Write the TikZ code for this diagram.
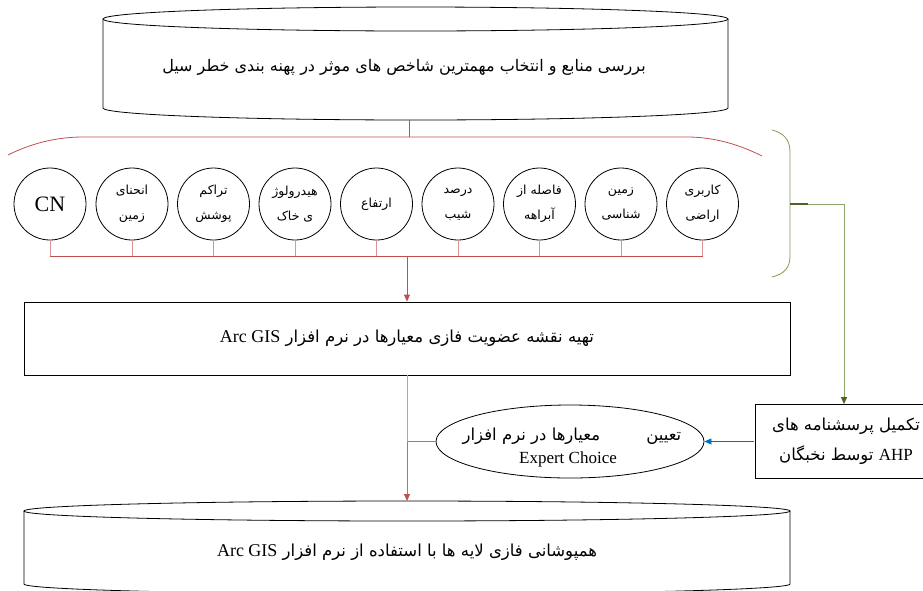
\documentclass[tikz,border=0pt]{standalone}
\usepackage{fontspec}
\usetikzlibrary{shapes.geometric,arrows.meta}
\setmainfont{Liberation Serif}
\newfontfamily\fa[Script=Arabic]{DejaVu Sans}
\TeXXeTstate=1
\definecolor{redA}{HTML}{C0504D}
\definecolor{redL}{HTML}{DA9694}
\definecolor{grnA}{HTML}{7F9A4F}
\definecolor{grnD}{HTML}{4F6228}
\definecolor{grnL}{HTML}{8FA56A}
\definecolor{bluA}{HTML}{0070C0}
\definecolor{bluL}{HTML}{2AA0DA}
\definecolor{purA}{HTML}{8E7C9C}
\tikzset{
  crc/.style={circle, draw, line width=0.8pt, minimum size=72pt, inner sep=0pt, align=center,
    font={\fa\fontsize{12.5}{25}\selectfont}},
  txtbox/.style={draw=none, inner sep=0pt, align=center},
  bx/.style={draw, line width=0.8pt, inner sep=0pt, align=center},
  tip/.style={-{Triangle[length=7pt,width=6pt]}},
}
\newcommand{\fabig}{\fa\fontsize{16.5}{20}\selectfont}
\newcommand{\latbig}{\rmfamily\fontsize{18}{20}\selectfont}
\begin{document}
\begin{tikzpicture}[x=1pt,y=-1pt,line width=0.8pt]
\useasboundingbox (0,0) rectangle (923,590);
\begin{scope}
\clip (0,0) rectangle (923,590);
% top cylinder
\node[txtbox, minimum width=625pt, minimum height=114pt] (topc) at (404,67)
  {\fa\fontsize{16}{20}\selectfont\beginR بررسی منابع و انتخاب  مهمترین شاخص های موثر در پهنه بندی خطر سیل\endR};
\draw (103,19) -- (103,108) arc[start angle=180,end angle=0,x radius=312.5,y radius=12] -- (728,19);
\draw (415.5,19) ellipse [x radius=312.5, y radius=12];
\coordinate (t1) at (409,120);
\coordinate (t2) at (409,137);
% red arc
\draw[redA] (8,155) .. controls (30,144) and (55,137) .. (83,137) -- (687,137) .. controls (715,137) and (740,145) .. (762,156);
\draw[redA] (t1) -- (t2);
% circles
\node[crc] (c1) at (50,204) {\fontsize{22}{24}\selectfont\rmfamily CN};
\node[crc] (c2) at (132,204) {\beginR انحنای\endR\\\beginR زمین\endR};
\node[crc] (c3) at (213.5,204) {\beginR تراکم\endR\\\beginR پوشش\endR};
\node[crc] (c4) at (295,204) {\beginR هیدرولوژ\endR\\\beginR ی خاک\endR};
\node[crc] (c5) at (376.5,204) {\beginR ارتفاع\endR};
\node[crc] (c6) at (458,204) {\beginR درصد\endR\\\beginR شیب\endR};
\node[crc] (c7) at (539.5,204) {\beginR فاصله از\endR\\\beginR آبراهه\endR};
\node[crc] (c8) at (621,204) {\beginR زمین\endR\\\beginR شناسی\endR};
\node[crc] (c9) at (702.5,204) {\beginR کاربری\endR\\\beginR اراضی\endR};
\coordinate (bus) at (407,256);
\foreach \c in {c1,c2,c3,c4,c5,c6,c7,c8,c9}
  \draw[redL] (\c.south) -- (\c.south |- bus);
\draw[redA] (c1.south |- bus) -- (c9.south |- bus);
% middle box
\node[bx, minimum width=766pt, minimum height=73pt] (mid) at (407,338.5)
  {\fabig\beginR تهیه نقشه عضویت فازی معیارها در نرم افزار \beginL{\latbig Arc GIS}\endL\endR};
\draw[redA, tip] (bus) -- (mid.north);
% green bracket
\draw[grnA] (772,130) .. controls (784,133) and (790,140) .. (790,152) -- (790,256) .. controls (790,268) and (784,274) .. (772,277);
\coordinate (g1) at (790,204);
\coordinate (g2) at (808,204);
\coordinate (g3) at (844,204);
\draw[grnD, line width=1.3pt] (g1) -- (g2);
% ellipse
\node[ellipse, draw, line width=0.8pt, minimum width=268pt, minimum height=73pt, inner sep=0pt] (ell) at (570,441.5) {};
\node[txtbox, font={\fa\fontsize{16.5}{20}\selectfont}] (ell1) at (572,436)
  {\beginR تعیین\hspace{46pt}معیارها در نرم افزار\endR};
\node[txtbox, font={\rmfamily\fontsize{17}{20}\selectfont}] (ell2) at (568,459) {Expert Choice};
% right box
\node[bx, minimum width=182pt, minimum height=74pt] (rb) at (846,441.5) {};
\node[txtbox, font={\fa\fontsize{16.5}{30}\selectfont}] (rbt) at (846,441)
  {\beginR تکمیل پرسشنامه های\endR\\\beginR\beginL{\rmfamily\fontsize{17}{18}\selectfont AHP}\endL{} توسط نخبگان\endR};
\draw[bluA, -{Triangle[length=7pt,width=6pt]}, shorten <=0.5pt] (rb.west) -- (ell.east);
\draw[grnL, -{Triangle[length=7pt,width=6pt,color=grnD]}] (g2) -- (g3) -- (g3 |- rb.north);
% bottom cylinder
\node[txtbox, minimum width=766pt, minimum height=60pt] (bot) at (407,552)
  {\fabig\beginR همپوشانی فازی لایه ها با استفاده از نرم افزار \beginL{\latbig Arc GIS}\endL\endR};
\draw (24,511) -- (24,584) arc[start angle=180,end angle=0,x radius=383,y radius=10] -- (790,511);
\draw (407,511) ellipse [x radius=383, y radius=10];
\coordinate (btop) at (407,501);
\coordinate (j) at (407,441.5);
\draw[bluL] (ell.west) -- (j);
\draw[redL] (mid.south) -- (j);
\draw[purA, -{Triangle[length=7pt,width=6pt,color=redA]}] (j) -- (btop);
\end{scope}
\end{tikzpicture}
\end{document}
